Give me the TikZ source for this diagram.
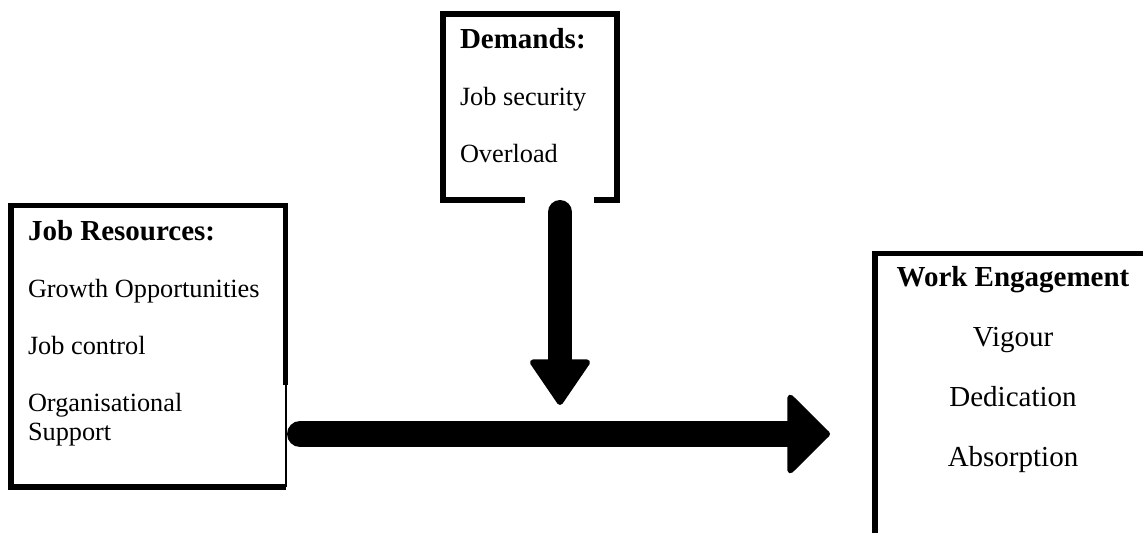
\documentclass[tikz,border=0pt]{standalone}
\usepackage{fontspec}
\setmainfont{Liberation Serif}
\usetikzlibrary{arrows.meta,positioning,calc}
\tikzset{
  boxline/.style={line width=2.75pt, line join=miter},
  thinline/.style={line width=1pt},
  framebox/.style={draw, boxline, rectangle, inner sep=0pt, outer sep=0pt, anchor=north west},
  plainbox/.style={rectangle, inner sep=0pt, outer sep=0pt, anchor=north west},
  boxtext/.style={inner sep=0pt, outer sep=0pt, align=left, font=\fontsize{13.15}{14.5}\selectfont},
  bigarrow/.style={line width=13pt, line cap=round, -{Triangle[length=22pt, width=43pt, round, line width=3pt]}},
  modarrow/.style={line width=12pt, line cap=round, -{Triangle[length=24pt, width=32pt, round, line width=3pt]}}
}
\newcommand{\boxhead}[1]{{\fontsize{14.5}{14.5}\selectfont\bfseries #1}}

\begin{document}
\begin{tikzpicture}[x=0.5pt, y=-0.5pt]
  \clip (0,0) rectangle (1143,533);
  % boxes
  \node[plainbox, minimum width=137.25pt, minimum height=140.75pt] (resbox) at (11,205.5) {};
  \node[framebox, line width=3pt, minimum width=87pt, minimum height=93pt] (demandbox) at (443,14) {};
  \node[framebox, minimum width=138pt, minimum height=160pt] (engbox) at (875,253.5) {};
  % job resources frame, thin on the lower right
  \draw[boxline] ($(resbox.north east)+(0,179.5)$) -- (resbox.north east) -- (resbox.north west) -- (resbox.south west) -- (resbox.south east);
  \draw[thinline] (resbox.south east) -- ($(resbox.north east)+(0,179.5)$);
  % texts
  \node[boxtext, below right=7.5pt and 8.5pt of resbox.north west] (restext) {\boxhead{Job Resources:}\\[14pt]Growth Opportunities\\[14pt]Job control\\[14pt]Organisational\\Support};
  \node[boxtext, below right=7.2pt and 8.5pt of demandbox.north west] (demtext) {\boxhead{Demands:}\\[14pt]Job security\\[14pt]Overload};
  \node[boxtext, align=center, font=\fontsize{14.5}{16}\selectfont, below=6.25pt of engbox.north] (engtext) {\textbf{Work Engagement}\\[14pt]Vigour\\[14pt]Dedication\\[14pt]Absorption};
  % gap under the demands box
  \fill[white] ($(demandbox.south)+(-5,-4)$) rectangle ($(demandbox.south)+(64,4)$);
  % arrows
  \coordinate (hmid) at (0,434);
  \coordinate (vtip) at (560,405);
  \draw[bigarrow] ($(resbox.east |- hmid)+(14.5,0)$) -- ($(engbox.west |- hmid)+(-45,0)$);
  \draw[modarrow] ($(demandbox.south)+(30,12)$) -- (vtip);
\end{tikzpicture}
\end{document}
